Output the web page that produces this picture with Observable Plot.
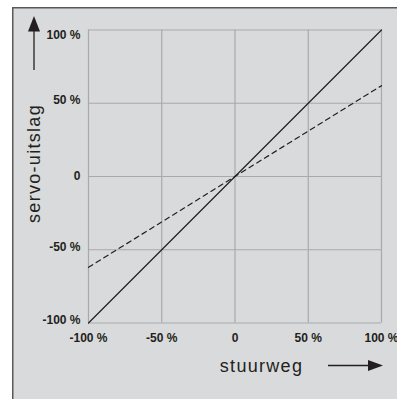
<!DOCTYPE html>
<html>
<head>
<meta charset="utf-8">
<script src="https://cdn.jsdelivr.net/npm/d3@7"></script>
<script src="https://cdn.jsdelivr.net/npm/@observablehq/plot@0.6"></script>
<style>
  html, body { margin: 0; padding: 0; background: #ffffff; overflow: hidden; }
  #outer { position: absolute; left: 0; top: 0; width: 397px; height: 399px; background: #ffffff; }
  #panel { position: absolute; left: 12px; top: 7px; width: 385px; height: 392px;
           border-left: 2px solid #58595b; border-top: 2px solid #58595b; background-color: #d9dadb; }
  #panel svg { display: block; overflow: visible; }
</style>
</head>
<body>
<div id="outer"><div id="panel"></div></div>
<script>
// Data
const xTicks = [-100, -50, 0, 50, 100];
const yTicks = [-100, -50, 0, 50, 100];
const solidX = [-100, 100];
const solidY = [-100, 100];
const dashedX = [-100, 100];
const dashedY = [-62, 62];
const xTitle = "stuurweg";
const yTitle = "servo-uitslag";

const solid = solidX.map((x, i) => ({x, y: solidY[i]}));
const dashed = dashedX.map((x, i) => ({x, y: dashedY[i]}));
const fmt = d => d === 0 ? "0" : `${d} %`;
const ink = "#231f20";
const grid = "#a7a9ac";
const bg = "#d9dadb";
const tickStyle = {tickSize: 0, tickFormat: fmt, fontWeight: "bold", fontSize: 12, fill: ink, label: null};

const M = {left: 74, right: 16, top: 20.5, bottom: 76.5};

const chart = Plot.plot({
  width: 383,
  height: 390,
  marginLeft: M.left,
  marginRight: M.right,
  marginTop: M.top,
  marginBottom: M.bottom,
  x: {domain: [-100, 100]},
  y: {domain: [-100, 100]},
  style: {background: bg, fontFamily: "'Liberation Sans', Arial, sans-serif", color: ink},
  marks: [
    Plot.frame({fill: bg, stroke: null, insetLeft: -M.left - 1, insetRight: -M.right - 20, insetTop: -M.top - 1, insetBottom: -M.bottom - 20}),
    Plot.gridX(xTicks, {stroke: grid, strokeOpacity: 1, strokeWidth: 1.2}),
    Plot.gridY(yTicks, {stroke: grid, strokeOpacity: 1, strokeWidth: 1.2}),
    Plot.line(dashed, {x: "x", y: "y", stroke: ink, strokeWidth: 1.2, strokeDasharray: "5,4"}),
    Plot.line(solid, {x: "x", y: "y", stroke: ink, strokeWidth: 1.2}),
    Plot.axisX(xTicks, {...tickStyle, tickPadding: 10}),
    Plot.axisY(yTicks.filter(d => d === 100), {...tickStyle, tickPadding: 8, dy: 5.5}),
    Plot.axisY(yTicks.filter(d => d === 0), {...tickStyle, tickPadding: 8}),
    Plot.axisY(yTicks.filter(d => d !== 0 && d !== 100), {...tickStyle, tickPadding: 8, dy: -2.7}),
    Plot.text([xTitle], {text: d => d, frameAnchor: "bottom", textAnchor: "middle", dx: 26.5, dy: 43.5, fontSize: 18, fill: ink, lineAnchor: "middle"}),
    Plot.text([yTitle], {text: d => d, frameAnchor: "left", textAnchor: "middle", rotate: -90, dx: -54, dy: -13, fontSize: 18, fill: ink, lineAnchor: "middle"})
  ]
});

d3.select(chart).selectAll("text").filter(function() {
  const t = this.textContent; return t === xTitle || t === yTitle;
}).style("letter-spacing", "1.3px");

document.getElementById("panel").appendChild(chart);

// Decorative axis arrows (pixel space, relative to the panel origin)
const svg = d3.select(chart);
const ox = 14, oy = 9;
const g = svg.append("g").attr("fill", ink).attr("stroke", ink);
// x arrow
g.append("line").attr("x1", 328 - ox).attr("x2", 369 - ox).attr("y1", 365.5 - oy).attr("y2", 365.5 - oy).attr("stroke-width", 1.3);
g.append("path").attr("stroke", "none")
  .attr("d", `M${368 - ox},${360 - oy}L${383 - ox},${365.5 - oy}L${368 - ox},${371 - oy}Z`);
// y arrow
g.append("line").attr("x1", 34 - ox).attr("x2", 34 - ox).attr("y1", 70 - oy).attr("y2", 30 - oy).attr("stroke-width", 1.3);
g.append("path").attr("stroke", "none")
  .attr("d", `M${28 - ox},${31.5 - oy}L${34 - ox},${16 - oy}L${40 - ox},${31.5 - oy}Z`);
</script>
</body>
</html>
